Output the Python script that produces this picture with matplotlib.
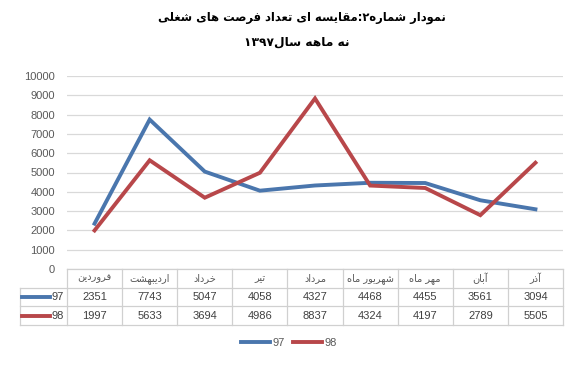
import re
import matplotlib
matplotlib.use('Agg')
import matplotlib.pyplot as plt
from matplotlib.lines import Line2D

# داده ها
months = ['فروردین', 'اردیبهشت', 'خرداد', 'تیر', 'مرداد', 'شهریور ماه', 'مهر ماه', 'آبان', 'آذر']
series_names = ['97', '98']
values_97 = [2351, 7743, 5047, 4058, 4327, 4468, 4455, 3561, 3094]
values_98 = [1997, 5633, 3694, 4986, 8837, 4324, 4197, 2789, 5505]
yticks = list(range(0, 10001, 1000))
title_1 = 'نمودار شماره۲:مقایسه ای تعداد فرصت های شغلی'
title_2 = 'نه ماهه سال۱۳۹۷'

blue = '#4a76ad'
red = '#b8474a'
grid_c = '#d9d9d9'
text_c = '#595959'

# شکل حروف فارسی (ایزوله، پایانی، آغازی، میانی)
FORMS = {
    'ا': (0xFE8D, 0xFE8E, None, None),
    'آ': (0xFE81, 0xFE82, None, None),
    'ب': (0xFE8F, 0xFE90, 0xFE91, 0xFE92),
    'ت': (0xFE95, 0xFE96, 0xFE97, 0xFE98),
    'خ': (0xFEA5, 0xFEA6, 0xFEA7, 0xFEA8),
    'د': (0xFEA9, 0xFEAA, None, None),
    'ذ': (0xFEAB, 0xFEAC, None, None),
    'ر': (0xFEAD, 0xFEAE, None, None),
    'س': (0xFEB1, 0xFEB2, 0xFEB3, 0xFEB4),
    'ش': (0xFEB5, 0xFEB6, 0xFEB7, 0xFEB8),
    'ص': (0xFEB9, 0xFEBA, 0xFEBB, 0xFEBC),
    'ع': (0xFEC9, 0xFECA, 0xFECB, 0xFECC),
    'غ': (0xFECD, 0xFECE, 0xFECF, 0xFED0),
    'ف': (0xFED1, 0xFED2, 0xFED3, 0xFED4),
    'ق': (0xFED5, 0xFED6, 0xFED7, 0xFED8),
    'ل': (0xFEDD, 0xFEDE, 0xFEDF, 0xFEE0),
    'م': (0xFEE1, 0xFEE2, 0xFEE3, 0xFEE4),
    'ن': (0xFEE5, 0xFEE6, 0xFEE7, 0xFEE8),
    'ه': (0xFEE9, 0xFEEA, 0xFEEB, 0xFEEC),
    'و': (0xFEED, 0xFEEE, None, None),
    'ی': (0xFBFC, 0xFBFD, 0xFBFE, 0xFBFF),
}
LAM_ALEF = {'ا': (0xFEFB, 0xFEFC), 'آ': (0xFEF5, 0xFEF6)}


def fa(text):
    res = []
    n = len(text)
    i = 0
    while i < n:
        c = text[i]
        if c not in FORMS:
            res.append(c)
            i += 1
            continue
        p = text[i - 1] if i > 0 else ''
        join_prev = p in FORMS and FORMS[p][2] is not None
        if c == 'ل' and i + 1 < n and text[i + 1] in LAM_ALEF:
            iso, fin = LAM_ALEF[text[i + 1]]
            res.append(chr(fin if join_prev else iso))
            i += 2
            continue
        q = text[i + 1] if i + 1 < n else ''
        f = FORMS[c]
        join_next = f[2] is not None and q in FORMS
        if join_prev and join_next:
            res.append(chr(f[3]))
        elif join_prev:
            res.append(chr(f[1]))
        elif join_next:
            res.append(chr(f[2]))
        else:
            res.append(chr(f[0]))
        i += 1
    s = ''.join(res)[::-1]
    return re.sub(r'[0-9\u06f0-\u06f9]+', lambda m: m.group(0)[::-1], s)


W, H = 577, 367
fig = plt.figure(figsize=(W / 100, H / 100), dpi=100)

# محور اصلی
x0, x1, ytop, ybot = 67, 563, 76, 269
ax = fig.add_axes([x0 / W, 1 - ybot / H, (x1 - x0) / W, (ybot - ytop) / H])
x = list(range(len(months)))
ax.plot(x, values_97, color=blue, lw=2.8, solid_joinstyle='miter', label=series_names[0], zorder=3)
ax.plot(x, values_98, color=red, lw=2.8, solid_joinstyle='miter', label=series_names[1], zorder=3)
ax.set_xlim(-0.5, len(months) - 0.5)
ax.set_ylim(0, 10000)
ax.set_yticks(yticks)
ax.set_yticklabels([str(v) for v in yticks], fontsize=8, color=text_c, family='Liberation Sans')
ax.tick_params(axis='y', length=0, pad=8.5)
ax.set_xticks([])
ax.grid(axis='y', color=grid_c, lw=0.9)
ax.set_axisbelow(True)
for s in ax.spines.values():
    s.set_visible(False)

# جدول داده
row_h = 18.7
tb = fig.add_axes([x0 / W, 1 - (ybot + 3 * row_h) / H, (x1 - x0) / W, 3 * row_h / H])
tb.set_xlim(-0.5, len(months) - 0.5)
tb.set_ylim(3, 0)
tb.axis('off')
col_w = (x1 - x0) / len(months)
left = -0.5 - (x0 - 20) / col_w
lc = '#d0d0d0'
for yy in [0, 1, 2, 3]:
    xs = -0.5 if yy == 0 else left
    tb.plot([xs, len(months) - 0.5], [yy, yy], color=lc, lw=0.9, clip_on=False)
for k in range(len(months) + 1):
    tb.plot([k - 0.5, k - 0.5], [0, 3], color=lc, lw=0.9, clip_on=False)
tb.plot([left, left], [1, 3], color=lc, lw=0.9, clip_on=False)
for i, m in enumerate(months):
    tb.text(i, 0.5, fa(m), ha='center', va='center', fontsize=7, color=text_c, family='DejaVu Sans')
for r, (vals, col, name) in enumerate([(values_97, blue, series_names[0]), (values_98, red, series_names[1])]):
    yy = r + 1.5
    for i, v in enumerate(vals):
        tb.text(i, yy, str(v), ha='center', va='center', fontsize=8, color='#404040', family='Liberation Sans')
    kx = -0.5 - (x0 - 22) / col_w
    kx2 = -0.5 - (x0 - 50) / col_w
    tb.add_line(Line2D([kx, kx2], [yy, yy], color=col, lw=2.8, clip_on=False))
    tb.text(-0.5 - 3 / col_w, yy, name, ha='right', va='center', fontsize=8, color='#404040', family='Liberation Sans')

# راهنما
fig.legend(loc='center', bbox_to_anchor=(289 / W, 1 - 343 / H), ncol=2, frameon=False,
           handlelength=2.6, handletextpad=0.2, columnspacing=0.8,
           prop={'family': 'Liberation Sans', 'size': 8}, labelcolor=text_c)

# عنوان
fig.text(302 / W, 1 - 18 / H, fa(title_1), ha='center', va='center', fontsize=8.3, weight='bold', family='DejaVu Sans')
fig.text(297 / W, 1 - 42 / H, fa(title_2), ha='center', va='center', fontsize=8.8, weight='bold', family='DejaVu Sans')

fig.savefig('out.png', dpi=100, facecolor='white')
